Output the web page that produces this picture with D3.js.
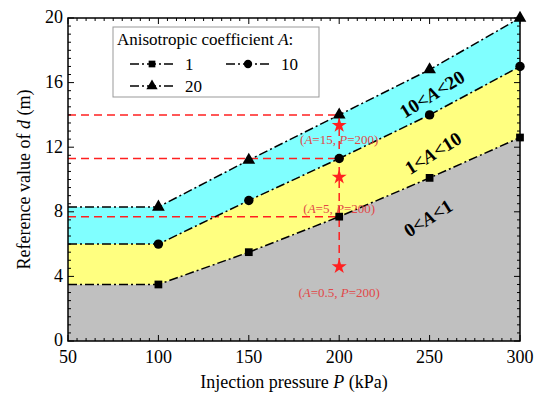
<!DOCTYPE html>
<html>
<head>
<meta charset="utf-8">
<script src="https://cdn.jsdelivr.net/npm/d3@7"></script>
<style>
  body { margin: 0; background: #fff; }
</style>
</head>
<body>
<svg id="chart" width="542" height="396" font-family="'Liberation Serif', 'Times New Roman', serif"></svg>
<script>
// injection pressure (kPa) where markers sit
var pressure = [100, 150, 200, 250, 300];
// reference value of d (m) per anisotropic coefficient
var dA1 = [3.5, 5.5, 7.7, 10.1, 12.6];
var dA10 = [6.0, 8.7, 11.3, 14.0, 17.0];
var dA20 = [8.3, 11.2, 14.0, 16.8, 20.0];
// the flat part to the left of the first marker
var flatStart = 50;

var xTicks = [50, 100, 150, 200, 250, 300];
var yTicks = [0, 4, 8, 12, 16, 20];

// red guide lines and stars at P=200
var guideLevels = [14.0, 11.3, 7.7];
var guideBottom = 4.6;
var starPoints = [
    {p: 200, d: 13.35, a: "15", ly: 12.45},
    {p: 200, d: 10.15, a: "5", ly: 8.2},
    {p: 200, d: 4.6, a: "0.5", ly: 3.0}
];

var svg = d3.select("#chart");
var margin = {left: 68, right: 22, top: 18, bottom: 55};
var W = 542, H = 396;

var x = d3.scaleLinear().domain([50, 300]).range([margin.left, W - margin.right]);
var y = d3.scaleLinear().domain([0, 20]).range([H - margin.bottom, margin.top]);

function withFlat(vals) {
    var pts = [[flatStart, vals[0]]];
    pressure.forEach(function (p, i) { pts.push([p, vals[i]]); });
    return pts;
}
var s1 = withFlat(dA1), s10 = withFlat(dA10), s20 = withFlat(dA20);

// colour bands
var band = d3.area()
    .x(function (d) { return x(d[0]); })
    .y0(function (d) { return y(d[1]); })
    .y1(function (d) { return y(d[2]); });

function zipBand(lo, hi) {
    return lo.map(function (d, i) { return [d[0], d[1], hi[i][1]]; });
}
svg.append("path").attr("d", band(s1.map(function (d) { return [d[0], 0, d[1]]; }))).attr("fill", "#c0c0c0");
svg.append("path").attr("d", band(zipBand(s1, s10))).attr("fill", "#ffff80");
svg.append("path").attr("d", band(zipBand(s10, s20))).attr("fill", "#80ffff");

// red dashed guides
var red = "#ff2020";
guideLevels.forEach(function (v) {
    svg.append("line")
        .attr("x1", x(50)).attr("x2", x(200))
        .attr("y1", y(v)).attr("y2", y(v))
        .attr("stroke", red).attr("stroke-width", 1.5)
        .attr("stroke-dasharray", "8,5");
});
svg.append("line")
    .attr("x1", x(200)).attr("x2", x(200))
    .attr("y1", y(guideLevels[0])).attr("y2", y(guideBottom))
    .attr("stroke", red).attr("stroke-width", 1.5)
    .attr("stroke-dasharray", "8,5");

// series lines
var line = d3.line().x(function (d) { return x(d[0]); }).y(function (d) { return y(d[1]); });
[s1, s10, s20].forEach(function (s) {
    svg.append("path").attr("d", line(s))
        .attr("fill", "none").attr("stroke", "#000").attr("stroke-width", 1.5)
        .attr("stroke-dasharray", "9,3,2,3");
});

// markers
var markers = [
    {vals: dA1, sym: d3.symbolSquare, size: 60},
    {vals: dA10, sym: d3.symbolCircle, size: 70},
    {vals: dA20, sym: d3.symbolTriangle, size: 70}
];
markers.forEach(function (m) {
    svg.append("g").selectAll("path").data(pressure).enter().append("path")
        .attr("d", d3.symbol().type(m.sym).size(m.size))
        .attr("transform", function (p, i) { return "translate(" + x(p) + "," + y(m.vals[i]) + ")"; })
        .attr("fill", "#000");
});

// stars and labels
starPoints.forEach(function (s) {
    svg.append("path")
        .attr("d", d3.symbol().type(d3.symbolStar).size(70))
        .attr("transform", "translate(" + x(s.p) + "," + y(s.d) + ")")
        .attr("fill", red);
    var t = svg.append("text")
        .attr("x", x(s.p)).attr("y", y(s.ly) + 4)
        .attr("text-anchor", "middle").attr("font-size", 13).attr("fill", "#e04848");
    t.append("tspan").text("(");
    t.append("tspan").attr("font-style", "italic").text("A");
    t.append("tspan").text("=" + s.a + ", ");
    t.append("tspan").attr("font-style", "italic").text("P");
    t.append("tspan").text("=200)");
});

// region labels
var regionLabels = [
    {cx: 432, cy: 94, parts: ["10<", "A", "<20"]},
    {cx: 433, cy: 153, parts: ["1<", "A", "<10"]},
    {cx: 428, cy: 218, parts: ["0<", "A", "<1"]}
];
regionLabels.forEach(function (r) {
    var t = svg.append("text")
        .attr("transform", "translate(" + r.cx + "," + r.cy + ") rotate(-32)")
        .attr("text-anchor", "middle").attr("dy", "0.35em")
        .attr("font-size", 19).attr("font-weight", "bold");
    t.append("tspan").text(r.parts[0]);
    t.append("tspan").attr("font-style", "italic").text(r.parts[1]);
    t.append("tspan").text(r.parts[2]);
});

// frame and ticks
var x0 = x(50), x1 = x(300), y0 = y(0), y1 = y(20);
svg.append("rect").attr("x", x0).attr("y", y1).attr("width", x1 - x0).attr("height", y0 - y1)
    .attr("fill", "none").attr("stroke", "#000").attr("stroke-width", 1.5);

var tk = svg.append("g").attr("stroke", "#000").attr("stroke-width", 1);
d3.range(50, 300.1, 5).forEach(function (v) {
    var len = v % 50 === 0 ? 6 : 3;
    tk.append("line").attr("x1", x(v)).attr("x2", x(v)).attr("y1", y0).attr("y2", y0 - len);
    tk.append("line").attr("x1", x(v)).attr("x2", x(v)).attr("y1", y1).attr("y2", y1 + len);
});
d3.range(0, 20.01, 0.5).forEach(function (v) {
    var len = Math.abs(v % 4) < 1e-6 ? 6 : 3;
    tk.append("line").attr("y1", y(v)).attr("y2", y(v)).attr("x1", x0).attr("x2", x0 + len);
    tk.append("line").attr("y1", y(v)).attr("y2", y(v)).attr("x1", x1).attr("x2", x1 - len);
});

svg.append("g").selectAll("text").data(xTicks).enter().append("text")
    .attr("x", function (d) { return x(d); }).attr("y", y0 + 22)
    .attr("text-anchor", "middle").attr("font-size", 18).text(function (d) { return d; });
svg.append("g").selectAll("text").data(yTicks).enter().append("text")
    .attr("x", x0 - 5).attr("y", function (d) { return y(d) - 1; }).attr("dy", "0.35em")
    .attr("text-anchor", "end").attr("font-size", 18).text(function (d) { return d; });

// axis titles
var xt = svg.append("text").attr("x", (x0 + x1) / 2).attr("y", 388)
    .attr("text-anchor", "middle").attr("font-size", 18);
xt.append("tspan").text("Injection pressure ");
xt.append("tspan").attr("font-style", "italic").text("P");
xt.append("tspan").text(" (kPa)");

var yt = svg.append("text").attr("transform", "translate(30," + ((y0 + y1) / 2) + ") rotate(-90)")
    .attr("text-anchor", "middle").attr("font-size", 18);
yt.append("tspan").text("Reference value of ");
yt.append("tspan").attr("font-style", "italic").text("d");
yt.append("tspan").text(" (m)");

// legend
var lg = svg.append("g");
lg.append("rect").attr("x", 113).attr("y", 27).attr("width", 206).attr("height", 70)
    .attr("fill", "#fff").attr("stroke", "#999").attr("stroke-width", 1);
var lt = lg.append("text").attr("x", 117).attr("y", 45).attr("font-size", 17);
lt.append("tspan").text("Anisotropic coefficient ");
lt.append("tspan").attr("font-style", "italic").text("A");
lt.append("tspan").text(":");

var legendItems = [
    {label: "1", sym: d3.symbolSquare, size: 45, lx: 130, ly: 64},
    {label: "10", sym: d3.symbolCircle, size: 55, lx: 226, ly: 64},
    {label: "20", sym: d3.symbolTriangle, size: 55, lx: 130, ly: 86}
];
legendItems.forEach(function (it) {
    lg.append("line").attr("x1", it.lx).attr("x2", it.lx + 45).attr("y1", it.ly).attr("y2", it.ly)
        .attr("stroke", "#000").attr("stroke-width", 1.5).attr("stroke-dasharray", "9,3,2,3");
    lg.append("path").attr("d", d3.symbol().type(it.sym).size(it.size))
        .attr("transform", "translate(" + (it.lx + 22) + "," + it.ly + ")").attr("fill", "#000");
    lg.append("text").attr("x", it.lx + 55).attr("y", it.ly).attr("dy", "0.35em")
        .attr("font-size", 17).text(it.label);
});
</script>
</body>
</html>
